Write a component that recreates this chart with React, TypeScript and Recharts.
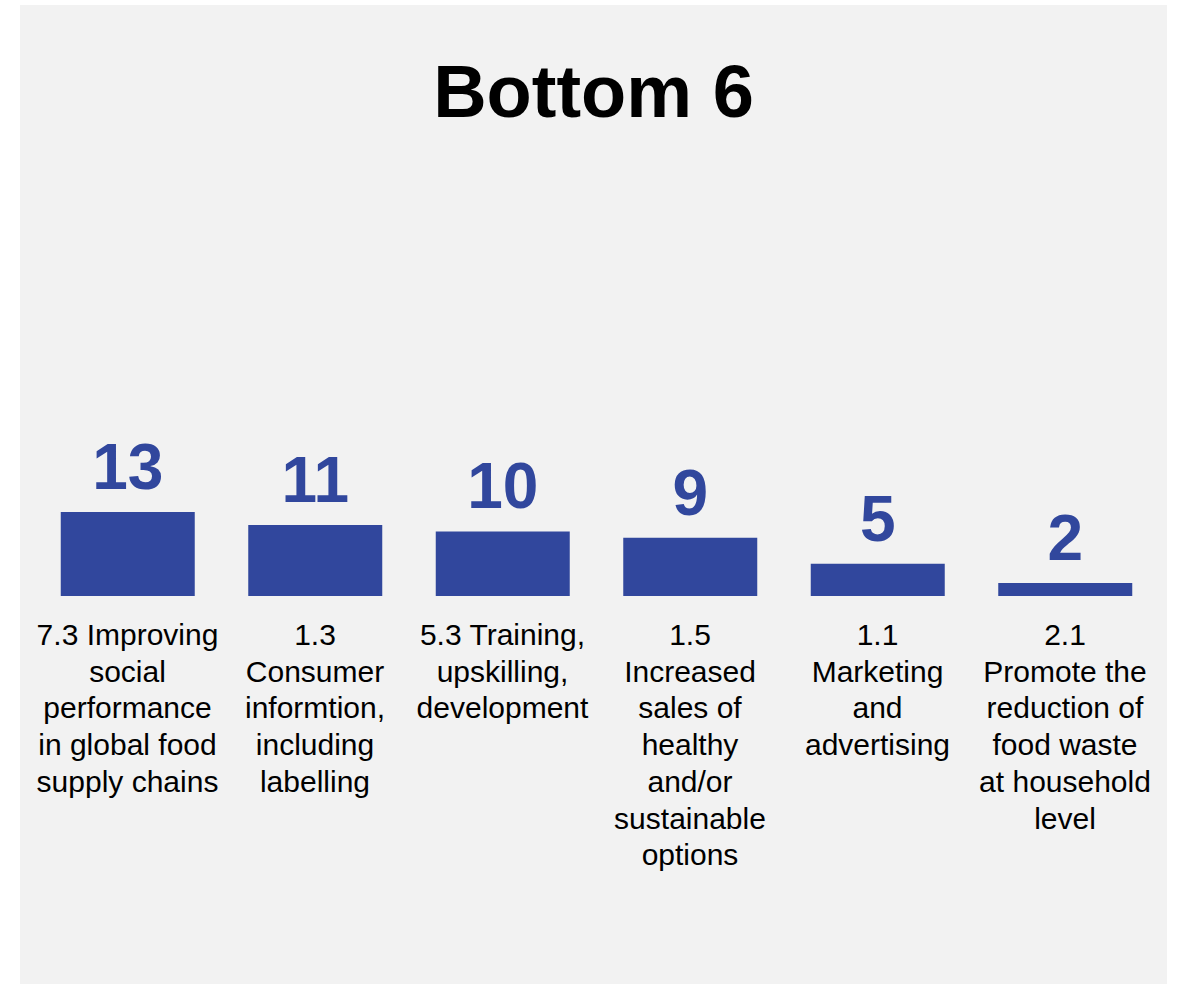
import React from "react";
import { BarChart, Bar, XAxis, YAxis, LabelList } from "recharts";

const title = "Bottom 6";
const categoryLines: string[][] = [
  ["7.3 Improving", "social", "performance", "in global food", "supply chains"],
  ["1.3", "Consumer", "informtion,", "including", "labelling"],
  ["5.3 Training,", "upskilling,", "development"],
  ["1.5", "Increased", "sales of", "healthy", "and/or", "sustainable", "options"],
  ["1.1", "Marketing", "and", "advertising"],
  ["2.1", "Promote the", "reduction of", "food waste", "at household", "level"],
];
const categoryIds = ["c1", "c2", "c3", "c4", "c5", "c6"];
const counts = [13, 11, 10, 9, 5, 2];

const BAR_COLOR = "#31479D";
const FONT = "'Liberation Sans', Arial, Helvetica, sans-serif";

const data = categoryIds.map((id, i) => ({ id, lines: categoryLines[i], value: counts[i] }));

const CategoryTick = (props: any) => {
  const { x, y, payload } = props;
  const idx = categoryIds.indexOf(payload.value);
  const lines = idx >= 0 ? categoryLines[idx] : [];
  return (
    <text
      x={x}
      y={y}
      textAnchor="middle"
      fontFamily={FONT}
      fontSize={30}
      fill="#000000"
    >
      {lines.map((ln, i) => (
        <tspan key={i} x={x} dy={i === 0 ? 49 : 36.7}>
          {ln}
        </tspan>
      ))}
    </text>
  );
};

export default function App() {
  return (
    <div
      style={{
        position: "absolute",
        left: 20,
        top: 5,
        width: 1147,
        height: 979,
        background: "#f2f2f2",
        fontFamily: FONT,
      }}
    >
      <div
        style={{
          position: "absolute",
          left: 0,
          top: 50,
          width: 1147,
          textAlign: "center",
          fontSize: 74,
          lineHeight: "74px",
          fontWeight: 700,
          color: "#000000",
          fontFamily: FONT,
        }}
      >
        {title}
      </div>
      <BarChart
        width={1147}
        height={979}
        data={data}
        margin={{ top: 203.4, right: 8.25, left: 13.75, bottom: 88 }}
        barCategoryGap="14.4%"
      >
        <XAxis
          dataKey="id"
          axisLine={false}
          tickLine={false}
          tickSize={0}
          tickMargin={0}
          interval={0}
          height={300}
          tick={<CategoryTick />}
        />
        <YAxis hide domain={[0, 60]} />
        <Bar dataKey="value" fill={BAR_COLOR} isAnimationActive={false}>
          <LabelList
            dataKey="value"
            position="top"
            offset={23}
            fill={BAR_COLOR}
            fontSize={64}
            fontWeight={700}
            fontFamily={FONT}
          />
        </Bar>
      </BarChart>
    </div>
  );
}
